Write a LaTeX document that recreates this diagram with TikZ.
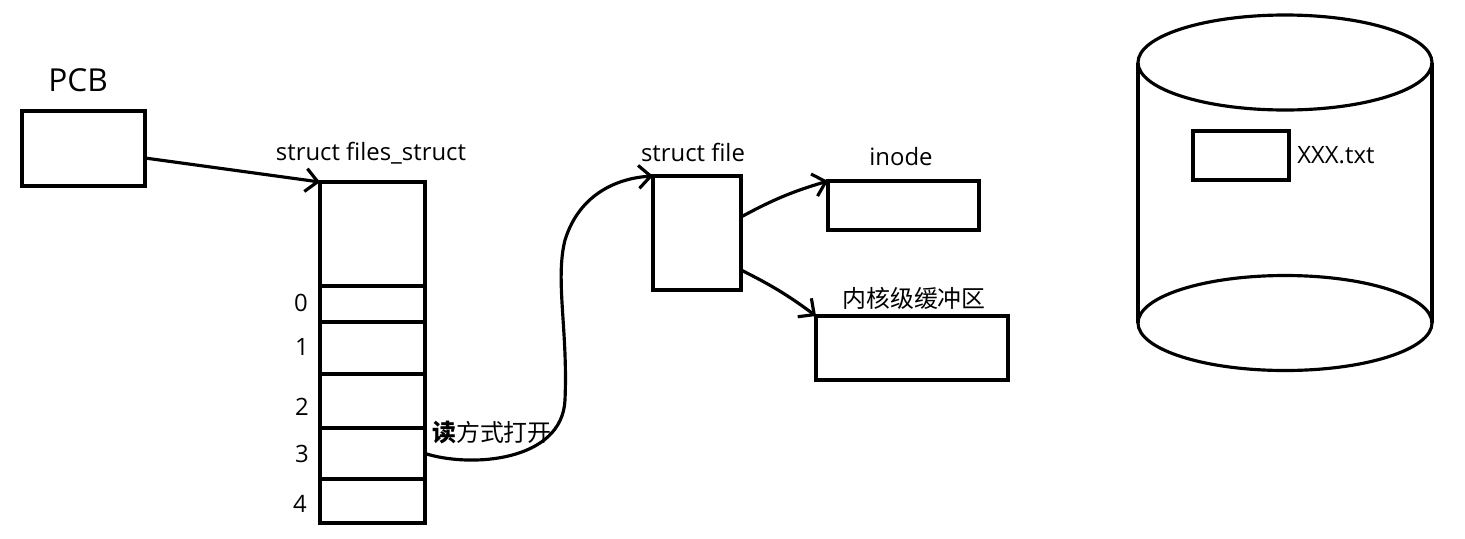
\documentclass[tikz,border=0pt]{standalone}
\usepackage{fontspec}
\setmainfont{Open Sans}
\newfontfamily\cjk{Noto Sans CJK SC}
\usetikzlibrary{arrows.meta,positioning,calc}

\begin{document}
\begin{tikzpicture}[x=0.02cm,y=-0.02cm,
  box/.style={draw,line width=1.8pt,outer sep=0pt,inner sep=0pt},
  cell/.style={box,minimum width=2.1cm},
  lbl/.style={font=\fontsize{13.6}{16}\selectfont,inner sep=0pt},
  ptr/.style={-{Straight Barb[length=2.4mm,width=4.6mm]},line width=1.8pt}
]
\useasboundingbox (0,0) rectangle (1465,538);
% process side
\node[lbl,font=\fontsize{18}{21}\selectfont] (pcbname) at (78,80) {PCB};
\node[box,minimum width=2.46cm,minimum height=1.5cm] (pcb) at (83.5,148.5) {};
% fd table
\node[cell,minimum height=2.08cm] (fs) at (372.5,234) {};
\node[cell,minimum height=0.72cm,below=0pt of fs] (fd0) {};
\node[cell,minimum height=1.04cm,below=0pt of fd0] (fd1) {};
\node[cell,minimum height=1.08cm,below=0pt of fd1] (fd2) {};
\node[cell,minimum height=1.02cm,below=0pt of fd2] (fd3) {};
\node[cell,minimum height=0.88cm,below=0pt of fd3] (fd4) {};
\node[lbl] (fsname) at (371,153) {struct files\_struct};
\node[lbl] (n0) at (301,303) {0};
\node[lbl] (n1) at (302,347) {1};
\node[lbl] (n2) at (302,407) {2};
\node[lbl] (n3) at (302,454) {3};
\node[lbl] (n4) at (300,504) {4};
% kernel objects
\node[box,minimum width=1.76cm,minimum height=2.28cm] (file) at (697,233) {};
\node[lbl] (filename) at (693,152) {struct file};
\node[box,minimum width=3.02cm,minimum height=0.98cm] (inode) at (903.5,205.5) {};
\node[lbl] (inodename) at (901,157) {inode};
\node[box,minimum width=3.84cm,minimum height=1.28cm] (buf) at (912,348) {};
\node[lbl] (bufname) at (914,298) {\cjk 内核级缓冲区};
\node[lbl] (mode) at (492,433) {\cjk{\bfseries 读}方式打开};
% disk
\draw[line width=1.8pt] (1285,62.5) ellipse [x radius=147,y radius=47.5];
\draw[line width=1.8pt] (1285,323) ellipse [x radius=147,y radius=47.5];
\draw[line width=1.8pt] (1138,62.5) -- (1138,323) (1432,62.5) -- (1432,323);
\node[box,minimum width=1.92cm,minimum height=0.98cm] (txt) at (1241,155.5) {};
\node[lbl,anchor=west] (txtname) at (1297,155) {XXX.txt};
% pointers
\draw[ptr] ([yshift=-0.19cm]pcb.east) -- (fs.north west);
\draw[ptr] (fd3.east) .. controls (470,468) and (562,462) .. (565,400)
  .. controls (568,330) and (555,280) .. (565,240)
  .. controls (580,192) and (620,178) .. (file.north west);
\draw[ptr] ([yshift=0.32cm]file.east) to[bend left=6] (inode.north west);
\draw[ptr] ([yshift=-0.74cm]file.east) to[bend left=5] (buf.north west);
\end{tikzpicture}
\end{document}
